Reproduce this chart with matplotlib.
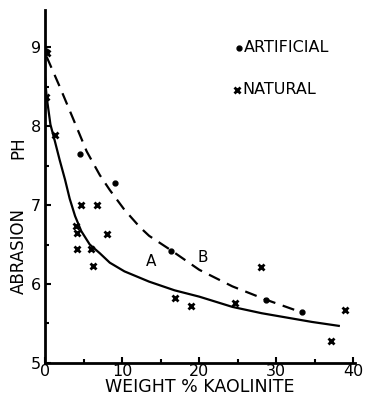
import matplotlib
matplotlib.use("Agg")
import matplotlib.pyplot as plt

# artificial samples (dots)
art_x = [0.1, 4.5, 9.1, 16.3, 28.7, 33.3]
art_y = [8.95, 7.65, 7.28, 6.42, 5.80, 5.64]

# natural samples (crosses)
nat_x = [0.2, 0.1, 1.3, 4.7, 6.7, 4.0, 4.2, 8.0, 4.1, 5.9, 6.2, 16.8, 18.9, 24.7, 28.0, 38.9, 37.1]
nat_y = [8.92, 8.37, 7.89, 7.00, 7.00, 6.73, 6.65, 6.63, 6.44, 6.44, 6.23, 5.82, 5.72, 5.76, 6.21, 5.67, 5.28]

# curve A (solid)
a_x = [0.0, 0.2, 0.7, 1.3, 1.9, 2.6, 3.2, 3.9, 4.7, 5.8, 7.1, 8.4, 10.3, 13.5, 16.8, 20.0, 24.3, 28.1, 34.6, 38.1]
a_y = [8.62, 8.38, 8.02, 7.80, 7.57, 7.32, 7.08, 6.86, 6.67, 6.50, 6.39, 6.27, 6.16, 6.03, 5.92, 5.84, 5.71, 5.63, 5.52, 5.47]

# curve B (dashed)
b_x = [0.2, 1.9, 3.7, 5.4, 7.1, 8.4, 10.3, 12.3, 13.5, 16.3, 20.0, 24.3, 28.7, 33.3]
b_y = [8.88, 8.50, 8.08, 7.68, 7.38, 7.19, 6.94, 6.72, 6.61, 6.43, 6.18, 5.97, 5.80, 5.64]

fig = plt.figure(figsize=(3.69, 3.98), dpi=100)
ax = fig.add_axes([0.122, 0.088, 0.84, 0.887])

ax.plot(a_x, a_y, color='black', lw=1.6)
ax.plot(b_x, b_y, color='black', lw=1.6, dashes=(5.5, 3.5))
ax.plot(art_x, art_y, 'o', color='black', ms=3.5)
ax.plot(nat_x, nat_y, 'x', color='black', ms=5, mew=2)

ax.text(13.8, 6.28, 'A', fontsize=11, ha='center', va='center')
ax.text(20.4, 6.34, 'B', fontsize=11, ha='center', va='center')

# legend drawn by hand
ax.plot([25.2], [8.99], 'o', color='black', ms=3.5)
ax.text(25.8, 8.99, 'ARTIFICIAL', fontsize=11.5, va='center')
ax.plot([24.9], [8.46], 'x', color='black', ms=4, mew=2)
ax.text(25.6, 8.46, 'NATURAL', fontsize=11.5, va='center')

ax.set_xlim(0, 40.2)
ax.set_ylim(5, 9.47)
ax.set_xticks([0, 10, 20, 30, 40])
ax.set_xticks([5, 15, 25, 35], minor=True)
ax.set_yticks([5, 6, 7, 8, 9])
ax.set_yticks([5.5, 6.5, 7.5, 8.5], minor=True)
ax.tick_params(direction='in', length=4, width=1.5, labelsize=11.5)
ax.tick_params(axis='x', pad=1)
ax.tick_params(axis='y', pad=3)
ax.tick_params(which='minor', direction='in', length=3, width=1.5)
for s in ['top', 'right']:
    ax.spines[s].set_visible(False)
for s in ['left', 'bottom']:
    ax.spines[s].set_linewidth(2)

ax.set_xlabel('WEIGHT % KAOLINITE', fontsize=12.5, labelpad=-1)
fig.text(0.05, 0.37, 'ABRASION', rotation=90, fontsize=12, ha='center', va='center')
fig.text(0.05, 0.63, 'PH', rotation=90, fontsize=12, ha='center', va='center')

fig.savefig('out.png', dpi=100)
